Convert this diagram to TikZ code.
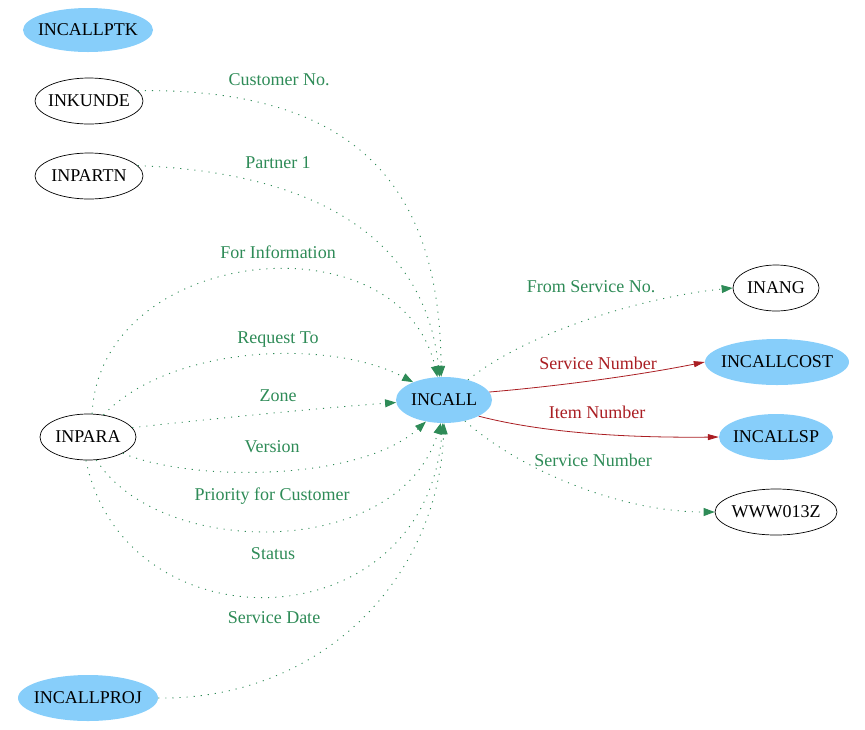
\documentclass[tikz,border=0pt]{standalone}
\usepackage{fontspec}
\setmainfont{Liberation Serif}
\usetikzlibrary{arrows.meta,shapes.geometric}
\definecolor{nodeblue}{RGB}{135,206,250}
\definecolor{edgegreen}{RGB}{46,139,87}
\definecolor{edgered}{RGB}{170,30,35}
\newcommand{\nm}[1]{\makebox[0pt]{#1}}
\tikzset{
  every node/.style={font=\fontsize{18}{20}\selectfont, inner sep=0pt},
  bluenode/.style={ellipse, fill=nodeblue, minimum width=#1, minimum height=46pt},
  whitenode/.style={ellipse, draw=black, line width=0.7pt, fill=white, minimum width=#1, minimum height=46pt},
  greenlbl/.style={text=edgegreen},
  redlbl/.style={text=edgered},
  greenedge/.style={draw=edgegreen, line width=0.9pt, dash pattern=on 1.1pt off 6pt,
    -{Triangle[length=11pt,width=8pt]}},
  rededge/.style={draw=edgered, line width=0.8pt, -{Triangle[length=11pt,width=6pt]}},
}
\begin{document}
\begin{tikzpicture}[x=1pt,y=-1pt]
\useasboundingbox (0,0) rectangle (865,729);
% nodes
\node[bluenode=130pt, minimum height=44pt] (incallptk) at (88,30) {\nm{INCALLPTK}};
\node[whitenode=108pt] (inkunde) at (89,101) {\nm{INKUNDE}};
\node[whitenode=108pt] (inpartn) at (89,176) {\nm{INPARTN}};
\node[whitenode=96pt] (inpara) at (88,437) {\nm{INPARA}};
\node[bluenode=140pt] (incallproj) at (88,698) {\nm{INCALLPROJ}};
\node[bluenode=96pt] (incall) at (444,400) {\nm{INCALL}};
\node[whitenode=86pt] (inang) at (776,288) {\nm{INANG}};
\node[bluenode=144pt] (incallcost) at (777,362) {\nm{INCALLCOST}};
\node[bluenode=114pt] (incallsp) at (776,437) {\nm{INCALLSP}};
\node[whitenode=122pt] (www) at (776,512) {\nm{WWW013Z}};
% labels
\node[greenlbl] (lcust) at (279,80) {Customer No.};
\node[greenlbl] (lpart) at (278,163) {Partner 1};
\node[greenlbl] (linfo) at (278,252) {For Information};
\node[greenlbl] (lreq) at (278,340) {Request To};
\node[greenlbl] (lzone) at (278,396) {Zone};
\node[greenlbl] (lver) at (272,447) {Version};
\node[greenlbl] (lprio) at (272,496) {Priority for Customer};
\node[greenlbl] (lstat) at (273,554) {Status};
\node[greenlbl] (ldate) at (274,618) {Service Date};
\node[greenlbl] (lfrom) at (591,287) {From Service No.};
\node[redlbl] (lsn) at (598,363) {Service Number};
\node[redlbl] (litem) at (597,412) {Item Number};
\node[greenlbl] (lsn2) at (593,460) {Service Number};
% incoming edges
\draw[greenedge] (inkunde.12) .. controls (350,88) and (440,180) .. (incall.97);
\draw[greenedge] (inpartn.12) .. controls (310,172) and (425,235) .. (incall.101);
\draw[greenedge] (inpara.80) .. controls (100,245) and (400,215) .. (incall.106);
\draw[greenedge] (inpara.55) .. controls (170,345) and (330,338) .. (incall.150);
\draw[greenedge] (inpara.12) .. controls (220,418) and (320,408) .. (incall.183);
\draw[greenedge] (inpara.-25) .. controls (190,482) and (360,482) .. (incall.-130);
\draw[greenedge] (inpara.-70) .. controls (160,560) and (400,560) .. (incall.-98);
\draw[greenedge] (inpara.-95) .. controls (125,650) and (425,645) .. (incall.-93);
\draw[greenedge] (incallproj.east) .. controls (320,700) and (438,580) .. (incall.-90);
% outgoing edges
\draw[greenedge] (incall.40) .. controls (530,330) and (650,296) .. (inang.west);
\draw[rededge] (incall.10) .. controls (560,386) and (640,375) .. (incallcost.west);
\draw[rededge] (incall.-25) .. controls (540,432) and (620,438) .. (incallsp.west);
\draw[greenedge] (incall.-45) .. controls (520,470) and (620,512) .. (www.west);
\end{tikzpicture}
\end{document}
